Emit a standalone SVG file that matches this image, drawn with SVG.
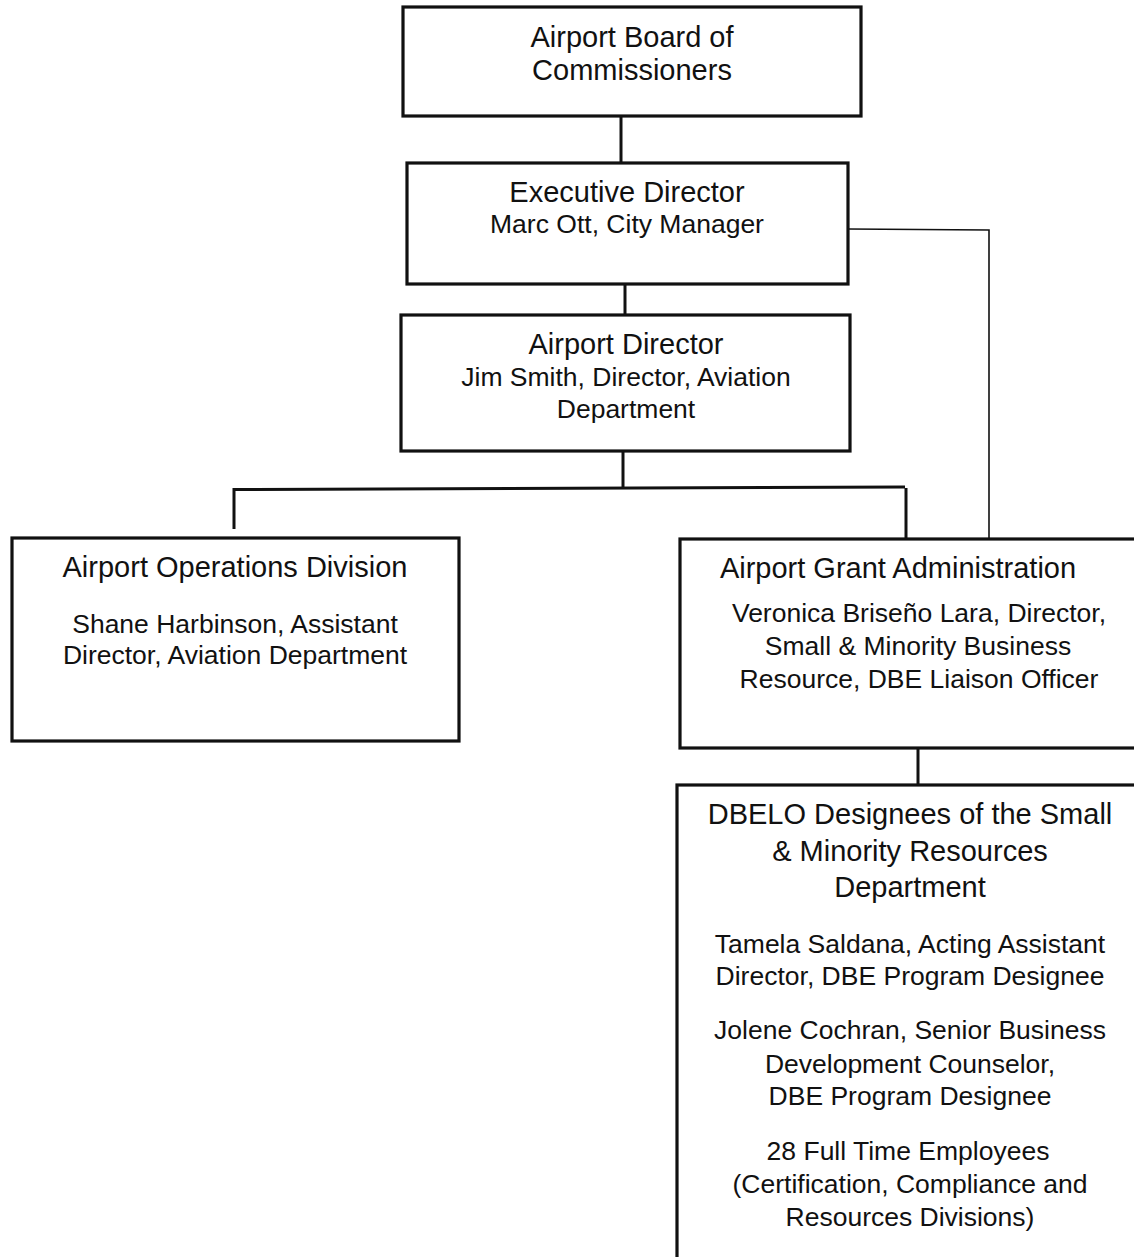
<svg xmlns="http://www.w3.org/2000/svg" width="1134" height="1257" viewBox="0 0 1134 1257">
<style>
.box{fill:#fff;stroke:#111;stroke-width:3.2}
.t{font-family:"Liberation Sans",Arial,sans-serif;font-size:29px;fill:#111;text-anchor:middle}
.s{font-family:"Liberation Sans",Arial,sans-serif;font-size:26.5px;fill:#111;text-anchor:middle}
.c{fill:none;stroke:#111;stroke-width:3}
.thin{fill:none;stroke:#111;stroke-width:1.6}
</style>
<rect width="1134" height="1257" fill="#fff"/>
<g id="connectors">
<line class="c" x1="621" y1="116" x2="621" y2="163"/>
<line class="c" x1="625" y1="284" x2="625" y2="315"/>
<line class="c" x1="623" y1="451" x2="623" y2="488"/>
<polyline class="c" points="234,529 234,489.5 905,487 "/>
<line class="c" x1="906" y1="488" x2="906" y2="539"/>
<polyline class="thin" points="848,229 989,230 989,539"/>
<line class="c" x1="918" y1="748" x2="918" y2="785"/>
</g>
<g id="board">
<rect class="box" x="403" y="7" width="458" height="109"/>
<text class="t" x="632" y="47">Airport Board of</text>
<text class="t" x="632" y="80">Commissioners</text>
</g>
<g id="executive">
<rect class="box" x="407" y="163" width="441" height="121"/>
<text class="t" x="627" y="202">Executive Director</text>
<text class="s" x="627" y="233">Marc Ott, City Manager</text>
</g>
<g id="airport-director">
<rect class="box" x="401" y="315" width="449" height="136"/>
<text class="t" x="626" y="354">Airport Director</text>
<text class="s" x="626" y="386">Jim Smith, Director, Aviation</text>
<text class="s" x="626" y="418">Department</text>
</g>
<g id="operations">
<rect class="box" x="12" y="538" width="447" height="203"/>
<text class="t" x="235" y="577">Airport Operations Division</text>
<text class="s" x="235" y="633">Shane Harbinson, Assistant</text>
<text class="s" x="235" y="664">Director, Aviation Department</text>
</g>
<g id="grant">
<rect class="box" x="680" y="539" width="470" height="209"/>
<text class="t" x="898" y="578">Airport Grant Administration</text>
<text class="s" x="919" y="622">Veronica Briseño Lara, Director,</text>
<text class="s" x="918" y="655">Small &amp; Minority Business</text>
<text class="s" x="919" y="688">Resource, DBE Liaison Officer</text>
</g>
<g id="dbelo">
<rect class="box" x="677" y="785" width="473" height="490"/>
<text class="t" x="910" y="824">DBELO Designees of the Small</text>
<text class="t" x="910" y="861">&amp; Minority Resources</text>
<text class="t" x="910" y="897">Department</text>
<text class="s" x="910" y="953">Tamela Saldana, Acting Assistant</text>
<text class="s" x="910" y="985">Director, DBE Program Designee</text>
<text class="s" x="910" y="1039">Jolene Cochran, Senior Business</text>
<text class="s" x="910" y="1073">Development Counselor,</text>
<text class="s" x="910" y="1105">DBE Program Designee</text>
<text class="s" x="908" y="1160">28 Full Time Employees</text>
<text class="s" x="910" y="1193">(Certification, Compliance and</text>
<text class="s" x="910" y="1226">Resources Divisions)</text>
</g>
</svg>
